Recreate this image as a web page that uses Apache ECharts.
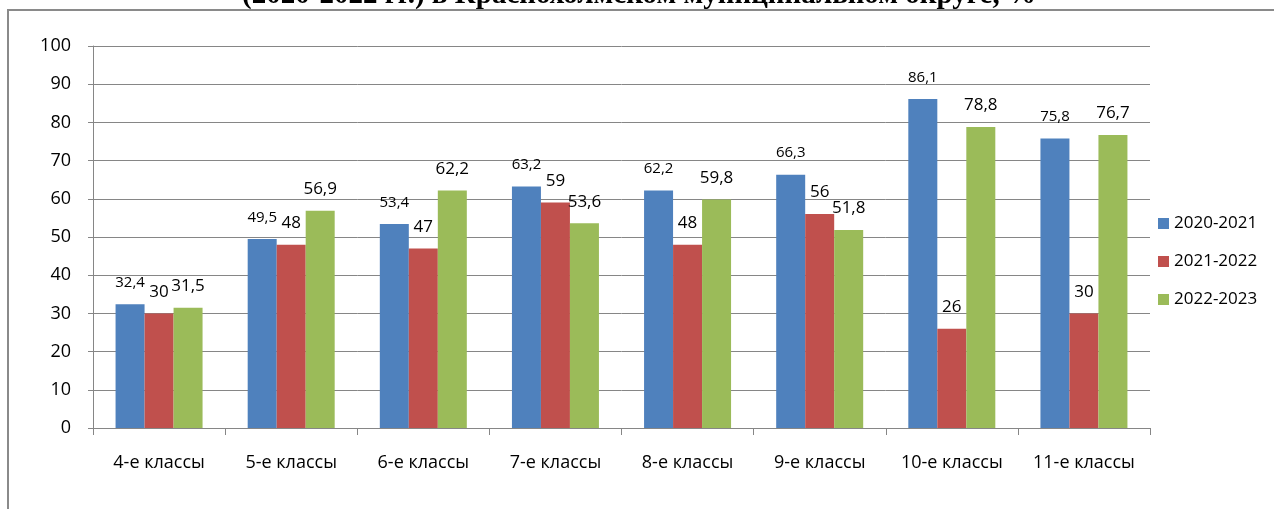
<!DOCTYPE html>
<html>
<head>
<meta charset="utf-8">
<title>chart</title>
<script src="https://cdn.jsdelivr.net/npm/echarts@6/dist/echarts.min.js"></script>
<style>
  html, body { margin: 0; padding: 0; background: #fff; }
  #chart { width: 1274px; height: 509px; }
</style>
</head>
<body>
<div id="chart"></div>
<script>
// данные
const categories = ['4-е классы', '5-е классы', '6-е классы', '7-е классы', '8-е классы', '9-е классы', '10-е классы', '11-е классы']
const seriesNames = ['2020-2021', '2021-2022', '2022-2023']
const values2020 = [32.4, 49.5, 53.4, 63.2, 62.2, 66.3, 86.1, 75.8]
const values2021 = [30, 48, 47, 59, 48, 56, 26, 30]
const values2022 = [31.5, 56.9, 62.2, 53.6, 59.8, 51.8, 78.8, 76.7]
const yTicks = [0, 10, 20, 30, 40, 50, 60, 70, 80, 90, 100]

const colors = ['#4F81BD', '#C0504D', '#9BBB59']
const font = '"Open Sans", "Noto Sans", sans-serif'

const chart = echarts.init(document.getElementById('chart'))

// подписи с запятой вместо точки
const fmt = p => String(p.value).replace('.', ',')

function barSeries (name, data, color, labelSize, dist) {
  return {
    name: name,
    type: 'bar',
    data: data,
    barWidth: 29,
    barGap: '0%',
    itemStyle: { color: color },
    label: {
      show: true,
      position: 'top',
      distance: dist,
      color: '#000',
      fontSize: labelSize,
      fontFamily: font,
      formatter: fmt
    },
    animation: false
  }
}

chart.setOption({
  textStyle: { fontFamily: font },
  graphic: [
    // рамка диаграммы
    {
      type: 'rect',
      shape: { x: 8, y: 10, width: 1300, height: 560 },
      style: { fill: 'none', stroke: '#8a8a8a', lineWidth: 2 },
      silent: true
    },
    // заголовок (обрезан сверху)
    {
      type: 'text',
      style: {
        x: 639,
        y: 10,
        text: '(2020-2022 гг.) в Краснохолмском муниципальном округе, %',
        align: 'center',
        verticalAlign: 'bottom',
        font: 'bold 29px "Liberation Serif", "Times New Roman", serif',
        fill: '#000'
      },
      silent: true
    }
  ],
  legend: {
    orient: 'vertical',
    left: 1153,
    top: 210,
    itemWidth: 11,
    itemHeight: 11,
    itemGap: 21,
    icon: 'rect',
    textStyle: { fontSize: 17, color: '#000', fontFamily: font },
    data: seriesNames
  },
  grid: {
    left: 93,
    right: 124,
    top: 46,
    bottom: 81,
    containLabel: false
  },
  xAxis: {
    type: 'category',
    data: categories,
    axisLine: { lineStyle: { color: '#868686', width: 1 } },
    axisTick: { show: true, interval: 0, length: 7, lineStyle: { color: '#868686' } },
    axisLabel: { color: '#000', fontSize: 18, margin: 26, interval: 0 }
  },
  yAxis: {
    type: 'value',
    min: yTicks[0],
    max: yTicks[yTicks.length - 1],
    interval: 10,
    axisLine: { show: true, lineStyle: { color: '#868686', width: 1 } },
    axisTick: { show: true, length: 5, lineStyle: { color: '#868686' } },
    axisLabel: { color: '#000', fontSize: 18, margin: 22 },
    splitLine: { lineStyle: { color: '#868686', width: 1 } }
  },
  series: [
    barSeries(seriesNames[0], values2020, colors[0], 15, 14),
    barSeries(seriesNames[1], values2021, colors[1], 17, 13),
    barSeries(seriesNames[2], values2022, colors[2], 17, 13)
  ]
})
</script>
</body>
</html>
